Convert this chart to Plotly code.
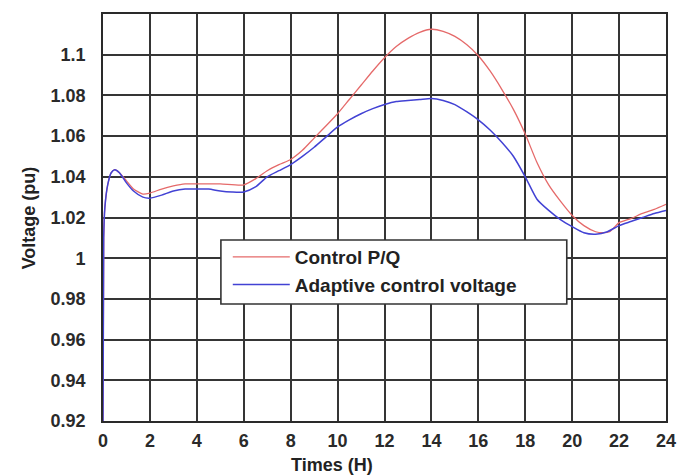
import plotly.graph_objects as go

# Hourly voltage profiles (per unit) for the two control strategies
hours_pq = [0, 0.03, 0.08, 0.2, 0.35, 0.5, 0.7, 1.0, 1.3, 1.7, 2.0, 2.5, 3.0, 3.5, 4.0, 5.0, 6.0,
            6.5, 7.0, 7.5, 8.0, 8.5, 9.0, 9.5, 10.0, 10.5, 11.0, 11.5, 12.0, 12.5, 13.0, 13.5,
            14.0, 14.5, 15.0, 15.5, 16.0, 16.5, 17.0, 17.5, 18.0, 18.5, 19.0, 19.5, 20.0, 20.5,
            21.0, 21.3, 21.6, 22.0, 22.5, 23.0, 23.5, 24.0]
voltage_pq = [0.92, 1.01, 1.025, 1.036, 1.042, 1.0435, 1.042, 1.038, 1.034, 1.0315, 1.032, 1.034,
              1.0355, 1.0365, 1.0365, 1.0365, 1.036, 1.039, 1.043, 1.046, 1.0485, 1.053, 1.059,
              1.065, 1.071, 1.078, 1.085, 1.092, 1.0985, 1.104, 1.108, 1.111, 1.1125, 1.1115,
              1.109, 1.105, 1.0995, 1.092, 1.083, 1.073, 1.061, 1.047, 1.036, 1.028, 1.021,
              1.016, 1.013, 1.0125, 1.013, 1.0175, 1.0195, 1.022, 1.024, 1.0265]

hours_adaptive = [0, 0.03, 0.08, 0.2, 0.35, 0.5, 0.7, 1.0, 1.3, 1.7, 2.0, 2.5, 3.0, 3.5, 4.0, 4.5,
                  5.0, 5.5, 6.0, 6.5, 7.0, 7.5, 8.0, 8.5, 9.0, 9.5, 10.0, 10.5, 11.0, 11.5, 12.0,
                  12.5, 13.0, 13.5, 14.0, 14.5, 15.0, 15.5, 16.0, 16.5, 17.0, 17.5, 18.0, 18.5,
                  19.0, 19.5, 20.0, 20.5, 21.0, 21.5, 22.0, 22.5, 23.0, 23.5, 24.0]
voltage_adaptive = [0.92, 1.01, 1.025, 1.036, 1.042, 1.0435, 1.042, 1.037, 1.033, 1.030, 1.0295,
                    1.031, 1.033, 1.034, 1.034, 1.034, 1.033, 1.0325, 1.0325, 1.035, 1.040,
                    1.043, 1.046, 1.050, 1.0545, 1.0595, 1.0645, 1.068, 1.071, 1.0735, 1.0755,
                    1.077, 1.0775, 1.078, 1.0785, 1.0775, 1.0755, 1.072, 1.068, 1.063, 1.057,
                    1.050, 1.040, 1.029, 1.0235, 1.019, 1.0155, 1.0125, 1.0118, 1.013, 1.016,
                    1.018, 1.020, 1.022, 1.0235]

x_ticks = list(range(0, 25, 2))
y_ticks = [0.92, 0.94, 0.96, 0.98, 1.0, 1.02, 1.04, 1.06, 1.08, 1.1]
y_tick_labels = ["0.92", "0.94", "0.96", "0.98", "1", "1.02", "1.04", "1.06", "1.08", "1.1"]

FONT = "Liberation Sans, Arial, sans-serif"

fig = go.Figure()
fig.add_trace(go.Scatter(x=hours_pq, y=voltage_pq, mode="lines", name="Control P/Q",
                         line=dict(color="#e56a6a", width=1.3, shape="spline", smoothing=0.6)))
fig.add_trace(go.Scatter(x=hours_adaptive, y=voltage_adaptive, mode="lines",
                         name="Adaptive control voltage",
                         line=dict(color="#4242d4", width=1.5, shape="spline", smoothing=0.6)))

axis_common = dict(showgrid=True, gridcolor="#353535", gridwidth=1.5, showline=True,
                   linecolor="#2a2a2a", linewidth=1.7, mirror=True, zeroline=False,
                   ticks="", tickfont=dict(family=FONT, size=18, color="#2a2a2a", weight="bold"))

fig.update_xaxes(range=[0, 24], tickvals=x_ticks, ticklabelstandoff=3, **axis_common)
fig.update_yaxes(range=[0.92, 1.12], tickvals=y_ticks, ticktext=y_tick_labels,
                 ticklabelstandoff=12, **axis_common)

# Legend frame drawn as a shape so it can be wider than its entries
fig.add_shape(type="rect", xref="paper", yref="paper",
              x0=(223 - 103) / 573, x1=(575 - 103) / 573,
              y0=(421 - 304) / 407, y1=(421 - 240) / 407,
              fillcolor="white", line=dict(color="#333333", width=1.6), layer="above")

fig.update_layout(
    width=687, height=475,
    margin=dict(l=103, r=11, t=14, b=54),
    paper_bgcolor="white", plot_bgcolor="white",
    showlegend=True,
    legend=dict(x=(230 - 103) / 573, y=(421 - 238) / 407, xanchor="left", yanchor="top",
                bgcolor="rgba(0,0,0,0)", borderwidth=0,
                font=dict(family=FONT, size=19, color="#222222", weight="bold"),
                itemwidth=57, tracegroupgap=0),
    annotations=[
        dict(text="Times (H)", xref="paper", yref="paper", x=(336 - 103) / 573,
             y=(421 - 465) / 407, xanchor="center", yanchor="middle", showarrow=False,
             font=dict(family=FONT, size=18, color="#222222", weight="bold")),
        dict(text="Voltage (pu)", xref="paper", yref="paper", x=(28 - 103) / 573,
             y=(421 - 218) / 407, xanchor="center", yanchor="middle", showarrow=False,
             textangle=-90, font=dict(family=FONT, size=18, color="#222222", weight="bold")),
    ],
)

fig.write_html("out.html")
